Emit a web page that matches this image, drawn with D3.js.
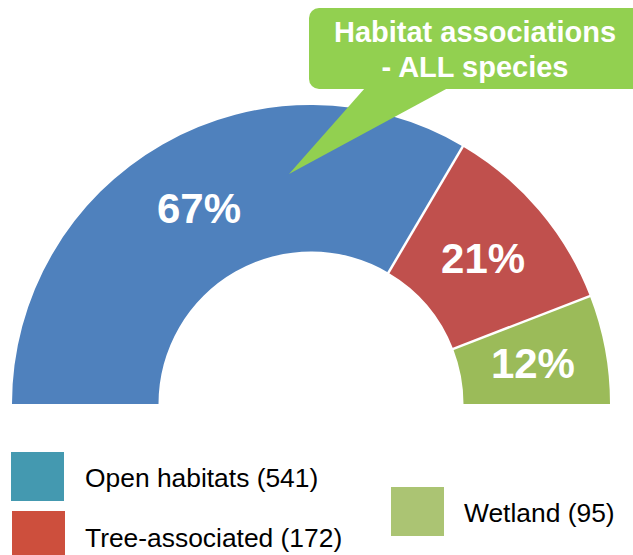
<!DOCTYPE html>
<html>
<head>
<meta charset="utf-8">
<script src="https://cdn.jsdelivr.net/npm/d3@7"></script>
<style>
  body { margin: 0; background: #fff; }
  svg { display: block; font-family: "Liberation Sans", Arial, sans-serif; }
</style>
</head>
<body>
<svg id="chart" width="633" height="555"></svg>
<script>
// data
const categories = ['Open habitats', 'Tree-associated', 'Wetland'];
const counts = [541, 172, 95];
const sliceColors = ['#4F81BD', '#C0504D', '#9BBB59'];
const legendColors = ['#4499B0', '#CD4F3D', '#ABC473'];
const titleLines = ['Habitat associations', '- ALL species'];

const svg = d3.select('#chart');
const cx = 311, cy = 404, R = 299, r = 152.5;

const total = d3.sum(counts);
const pie = d3.pie().sort(null).startAngle(-Math.PI / 2).endAngle(Math.PI / 2);
const arc = d3.arc().innerRadius(r).outerRadius(R);
const arcs = pie(counts);

const g = svg.append('g').attr('transform', `translate(${cx},${cy})`);

g.selectAll('path.slice')
  .data(arcs)
  .join('path')
  .attr('class', 'slice')
  .attr('d', arc)
  .attr('fill', (d, i) => sliceColors[i]);

// white separators between slices only
g.selectAll('line.sep')
  .data(arcs.slice(1))
  .join('line')
  .attr('class', 'sep')
  .attr('x1', (d) => Math.sin(d.startAngle) * (r - 2))
  .attr('y1', (d) => -Math.cos(d.startAngle) * (r - 2))
  .attr('x2', (d) => Math.sin(d.startAngle) * (R + 2))
  .attr('y2', (d) => -Math.cos(d.startAngle) * (R + 2))
  .attr('stroke', '#fff')
  .attr('stroke-width', 2.5);

// percent labels at arc centroids
g.selectAll('text.pct')
  .data(arcs)
  .join('text')
  .attr('class', 'pct')
  .attr('transform', (d) => {
    const [x, y] = arc.centroid(d);
    return `translate(${x},${y})`;
  })
  .attr('text-anchor', 'middle')
  .attr('dy', '0.36em')
  .attr('fill', '#fff')
  .attr('font-weight', 'bold')
  .attr('font-size', 42)
  .text((d) => Math.round((d.data / total) * 100) + '%');

// callout box
const box = { x: 309, y: 8, w: 335, h: 81, rx: 10 };
const tip = [289, 174];
const callout = svg.append('g');
callout.append('rect')
  .attr('x', box.x).attr('y', box.y)
  .attr('width', box.w).attr('height', box.h)
  .attr('rx', box.rx)
  .attr('fill', '#92D050');
callout.append('path')
  .attr('d', `M365,${box.y + box.h - 1} L${tip[0]},${tip[1]} L448,${box.y + box.h - 1} Z`)
  .attr('fill', '#92D050');
callout.selectAll('text')
  .data(titleLines)
  .join('text')
  .attr('x', 475)
  .attr('y', (d, i) => 42 + i * 35)
  .attr('text-anchor', 'middle')
  .attr('fill', '#fff')
  .attr('font-weight', 'bold')
  .attr('font-size', 29)
  .text((d) => d);

// legend
const legendPos = [
  { x: 11, y: 452, tx: 85, ty: 487 },
  { x: 12, y: 511, tx: 85, ty: 547 },
  { x: 391, y: 487, tx: 464, ty: 522 },
];
const legend = svg.selectAll('g.legend')
  .data(categories)
  .join('g')
  .attr('class', 'legend');
legend.append('rect')
  .attr('x', (d, i) => legendPos[i].x)
  .attr('y', (d, i) => legendPos[i].y)
  .attr('width', 53)
  .attr('height', (d, i) => (i === 1 ? 44 : 49))
  .attr('fill', (d, i) => legendColors[i]);
legend.append('text')
  .attr('x', (d, i) => legendPos[i].tx)
  .attr('y', (d, i) => legendPos[i].ty)
  .attr('font-size', 26.4)
  .attr('fill', '#000')
  .text((d, i) => `${d} (${counts[i]})`);
</script>
</body>
</html>
